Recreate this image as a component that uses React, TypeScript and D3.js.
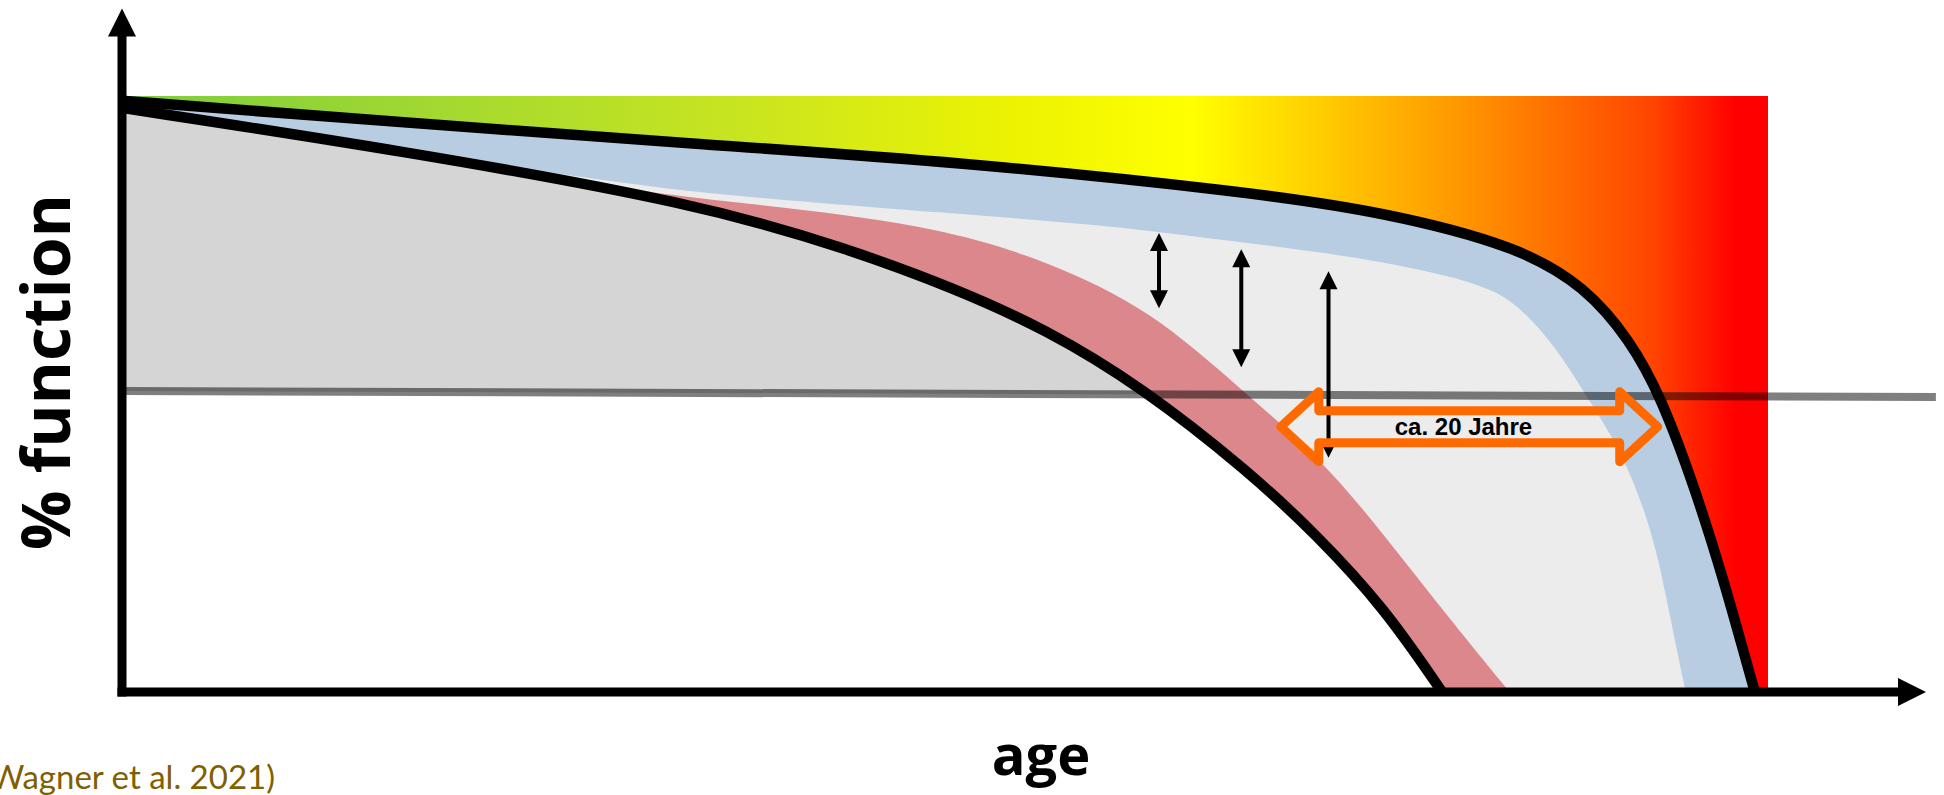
import React from 'react';
import * as d3 from 'd3';

type Pt = [number, number];

// age (0..100) vs % function (0..100)
const upperCurve: Pt[] = [[0, 99.2], [16.9, 95.6], [35.1, 91.9], [50.7, 89.0], [68.5, 83.9], [76.7, 80.5], [84.8, 74.8], [88.9, 68.0], [91.6, 59.1], [93.5, 49.6], [95.6, 33.9], [97.3, 18.8], [98.4, 7.9], [99.2, 0]];
const lowerCurve: Pt[] = [[0, 98.0], [16.9, 90.9], [35.1, 81.9], [44.2, 74.3], [50.7, 67.6], [56.1, 60.9], [61.9, 51.3], [68.5, 36.9], [72.6, 26.3], [76.7, 14.1], [80.2, 0]];
const blueBandLower: Pt[] = [[0, 98.0], [16.9, 91.1], [31.8, 84.6], [39.9, 82.6], [49.9, 80.4], [59.4, 78.4], [65.5, 76.3], [74.6, 73.3], [82.1, 69.1], [84.8, 65.4], [87.5, 56.4], [88.9, 49.8], [91.0, 41.1], [93.0, 27.2], [94.0, 13.3], [95.0, 0]];
const redBandUpper: Pt[] = [[0, 98.0], [16.9, 90.9], [31.8, 83.6], [39.9, 81.5], [49.9, 77.9], [56.4, 72.1], [62.5, 64.1], [67.9, 51.0], [72.8, 39.3], [76.7, 26.3], [80.7, 12.1], [84.3, 0]];
const thresholdLine: Pt[] = [[0, 50.5], [110.2, 49.5]];
const gradientEnd = 100;
const gradientTop = 100;
const axisMaxAge = 109.6;
const axisMaxFunction = 114.7;

// vertical double arrows: [age, from, to]
const gapArrows: [number, number, number][] = [[63.0, 77.0, 64.4], [68.0, 74.3, 54.5], [73.3, 70.6, 39.3]];
// orange span arrow
const spanAges: Pt = [70.4, 93.3];
const spanLevel = 44.5;
const spanLabel = 'ca. 20 Jahre';
const spanLabelPos: Pt = [81.5, 43.1];

const xLabel = 'age';
const yLabel = '% function';
const citation = '(Wagner et al. 2021)';

const gradStops: [number, string][] = [
  [0, '#7ccd3c'], [0.15, '#9ad634'], [0.38, '#cae51f'], [0.55, '#eef400'], [0.65, '#ffff00'],
  [0.72, '#ffd200'], [0.83, '#ff8c00'], [0.93, '#ff4500'], [0.98, '#ff0000'], [1, '#ff0000'],
];

export default function App() {
  const W = 1944, H = 795;
  const x = d3.scaleLinear().domain([0, 100]).range([122, 1768]);
  const y = d3.scaleLinear().domain([0, 100]).range([692, 96]);
  const curve = d3.curveBasis;
  const area = (pts: Pt[]) =>
    d3.area<Pt>().x(d => x(d[0])).y0(y(0)).y1(d => y(d[1])).curve(curve)(pts) || '';
  const line = d3.line<Pt>().x(d => x(d[0])).y(d => y(d[1])).curve(curve);
  const straight = d3.line<Pt>().x(d => x(d[0])).y(d => y(d[1]));

  const x0 = x(0), yBase = y(0);
  const clipPts = [[x(0), 0], [x(thresholdLine[1][0]), 0], [x(thresholdLine[1][0]), y(thresholdLine[1][1])], [x(0), y(thresholdLine[0][1])]];

  const ax0 = x(spanAges[0]), ax1 = x(spanAges[1]), ay = y(spanLevel);
  const head = 38, hh = 35, sh = 16;
  const orangePts = [[ax0, ay], [ax0 + head, ay - hh], [ax0 + head, ay - sh], [ax1 - head, ay - sh], [ax1 - head, ay - hh], [ax1, ay], [ax1 - head, ay + hh], [ax1 - head, ay + sh], [ax0 + head, ay + sh], [ax0 + head, ay + hh]];

  const yTip = y(axisMaxFunction), xTip = x(axisMaxAge);

  return (
    <svg width={W} height={H} style={{ position: 'absolute', left: 0, top: 0, background: '#fff' }}>
      <defs>
        <linearGradient id="heat" x1="0" x2="1" y1="0" y2="0">
          {gradStops.map(([o, c], i) => <stop key={i} offset={o} stopColor={c} />)}
        </linearGradient>
        <clipPath id="aboveLine">
          <polygon points={clipPts.map(p => p.join(',')).join(' ')} />
        </clipPath>
      </defs>
      <rect x={x0} y={y(gradientTop)} width={x(gradientEnd) - x0} height={yBase - y(gradientTop)} fill="url(#heat)" />
      <path d={area(upperCurve)} fill="#b9cde2" />
      <path d={area(blueBandLower)} fill="#ececec" />
      <path d={area(redBandUpper)} fill="#dc878b" />
      <path d={area(lowerCurve)} fill="#ffffff" />
      <path d={area(lowerCurve)} fill="#d5d5d5" clipPath="url(#aboveLine)" />
      <path d={straight(thresholdLine) || ''} stroke="#000" strokeOpacity={0.5} strokeWidth={8} fill="none" />
      <path d={line(upperCurve) || ''} stroke="#000" strokeWidth={10.5} fill="none" strokeLinejoin="round" />
      <path d={line(lowerCurve) || ''} stroke="#000" strokeWidth={10.5} fill="none" strokeLinejoin="round" />
      {gapArrows.map(([a, f0, f1], i) => {
        const ax = x(a), t = y(f0), b = y(f1), L = 18, hw = 9;
        return (
          <g key={i}>
            <line x1={ax} x2={ax} y1={t + L - 2} y2={b - L + 2} stroke="#000" strokeWidth={4} />
            <polygon points={`${ax},${t} ${ax - hw},${t + L} ${ax + hw},${t + L}`} fill="#000" />
            <polygon points={`${ax},${b} ${ax - hw},${b - L} ${ax + hw},${b - L}`} fill="#000" />
          </g>
        );
      })}
      <polygon points={orangePts.map(p => p.join(',')).join(' ')} fill="none" stroke="#ff6a00" strokeWidth={9} strokeLinejoin="round" />
      <text x={x(spanLabelPos[0])} y={y(spanLabelPos[1])} textAnchor="middle" fontFamily="'Liberation Sans Narrow', 'Arial Narrow', sans-serif" fontWeight="bold" fontSize={24} fill="#000">{spanLabel}</text>
      {/* axes */}
      <line x1={x0} x2={x0} y1={yBase + 4.5} y2={yTip + 26} stroke="#000" strokeWidth={9} />
      <polygon points={`${x0},${yTip} ${x0 - 14},${yTip + 28} ${x0 + 14},${yTip + 28}`} fill="#000" />
      <line x1={x0 - 4.5} x2={xTip - 26} y1={yBase} y2={yBase} stroke="#000" strokeWidth={9} />
      <polygon points={`${xTip},${yBase} ${xTip - 28},${yBase - 14} ${xTip - 28},${yBase + 14}`} fill="#000" />
      <text transform={`translate(70,372) rotate(-90)`} textAnchor="middle" fontFamily="'Open Sans', sans-serif" fontWeight="bold" fontSize={66} fill="#000">{yLabel}</text>
      <text x={1041} y={775} textAnchor="middle" fontFamily="'Open Sans', sans-serif" fontWeight="bold" fontSize={56} fill="#000">{xLabel}</text>
      <text x={275} y={789} textAnchor="end" fontFamily="Lato, sans-serif" fontSize={33} fill="#7f6000">{citation}</text>
    </svg>
  );
}
